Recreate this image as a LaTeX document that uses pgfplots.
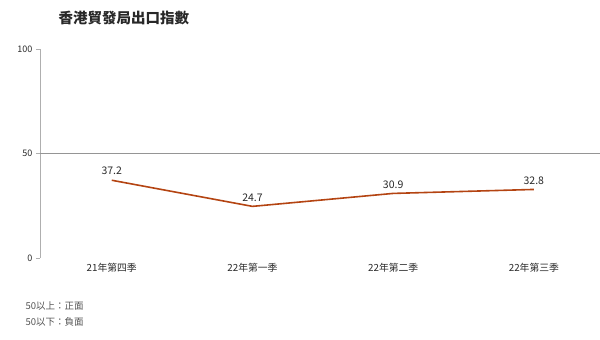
\documentclass[border=0pt]{standalone}
\usepackage{pgfplots}
\pgfplotsset{compat=1.18}
\usepackage{fontspec}
\setmainfont{Noto Sans CJK TC}
\definecolor{linec}{RGB}{180,68,18}
\definecolor{axgray}{RGB}{175,175,175}
\definecolor{txt}{RGB}{40,40,40}
\begin{document}
\begin{tikzpicture}
\path[use as bounding box] (-40pt,-82pt) rectangle (560pt,258pt);
\begin{axis}[
  at={(0pt,0pt)}, anchor=south west,
  scale only axis, width=560pt, height=209pt,
  xmin=-0.51, xmax=3.47, ymin=0, ymax=100,
  axis lines*=left,
  x axis line style={draw=none},
  y axis line style={axgray, line width=1pt, -},
  xtick={0,1,2,3},
  xticklabels={21年第四季,22年第一季,22年第二季,22年第三季},
  xtick style={draw=none},
  xticklabel style={font=\fontsize{9.8}{11}\selectfont, text=txt, yshift=-2pt},
  ytick={0,50,100},
  ytick align=outside,
  ytick style={axgray, line width=0.8pt},
  major tick length=4pt,
  yticklabel style={font=\fontsize{9}{10}\selectfont, text=txt},
  /pgf/number format/assume math mode=true,
  clip=false,
  nodes near coords,
  point meta=explicit symbolic,
  every node near coord/.append style={font=\fontsize{10.5}{12}\selectfont, text=txt, anchor=south, yshift=1pt},
]
\draw[color=axgray!85!black, line width=0.8pt] (rel axis cs:0,0.5) -- (rel axis cs:1,0.5);
\addplot[color=linec, line width=1.6pt, mark=none] table[meta=label] {
x y label
0 37.2 37.2
1 24.7 24.7
2 30.9 30.9
3 32.8 32.8
};
\end{axis}
\node[anchor=west, font=\bfseries\fontsize{14.5}{16}\selectfont, text=txt] at (15pt,240pt) {香港貿發局出口指數};
\node[anchor=west, font=\fontsize{9.5}{11}\selectfont, text=txt!80] at (-18pt,-48pt) {50以上：正面};
\node[anchor=west, font=\fontsize{9.5}{11}\selectfont, text=txt!80] at (-18pt,-64pt) {50以下：負面};
\end{tikzpicture}
\end{document}
